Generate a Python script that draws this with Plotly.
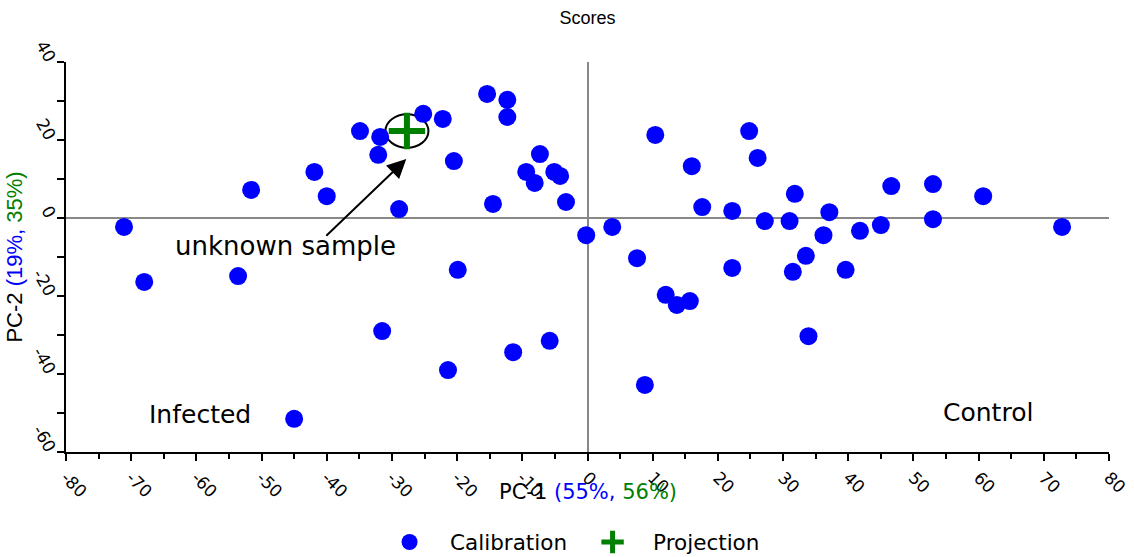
import plotly.graph_objects as go

# Calibration scores (PC-1, PC-2)
cal_pc1 = [-71.1, -68.0, -51.6, -53.6, -41.9, -40.0, -45.0, -34.9, -31.8, -32.1,
           -28.9, -31.5, -25.2, -22.2, -20.5, -19.9, -21.4, -15.4, -12.3, -12.3,
           -14.5, -11.4, -9.4, -8.1, -7.3, -5.1, -4.2, -3.3, -5.8, -0.2,
           3.8, 7.6, 8.8, 10.4, 12.0, 13.7, 15.7, 16.0, 17.6, 22.2,
           22.2, 24.8, 26.1, 27.2, 31.0, 31.8, 31.5, 33.5, 33.9, 36.2,
           37.1, 39.6, 41.8, 45.0, 46.6, 53.0, 53.0, 60.7, 72.8]
cal_pc2 = [-2.3, -16.4, 7.2, -14.9, 11.8, 5.6, -51.5, 22.3, 20.8, 16.2,
           2.3, -29.0, 26.7, 25.4, 14.6, -13.3, -39.0, 31.8, 30.3, 25.9,
           3.6, -34.4, 11.8, 9.0, 16.4, 11.8, 10.8, 4.1, -31.5, -4.4,
           -2.3, -10.3, -42.8, 21.3, -19.7, -22.3, -21.3, 13.3, 2.8, 1.8,
           -12.8, 22.3, 15.4, -0.8, -0.8, 6.2, -13.8, -9.7, -30.3, -4.4,
           1.5, -13.3, -3.3, -1.8, 8.2, 8.7, -0.3, 5.6, -2.3]

# Projected unknown sample
proj_pc1 = [-27.7]
proj_pc2 = [22.3]

x_ticks = list(range(-80, 81, 10))
y_ticks = list(range(-60, 41, 20))

FONT = "DejaVu Sans"
NB = "&nbsp;"

fig = go.Figure()
fig.add_trace(go.Scatter(
    x=cal_pc1, y=cal_pc2, mode="markers", name=NB * 3 + "Calibration" + NB * 3,
    marker=dict(symbol="circle", size=18, color="#0000FF", line=dict(width=0)),
))
fig.add_trace(go.Scatter(
    x=proj_pc1, y=proj_pc2, mode="markers", name=NB * 3 + "Projection",
    marker=dict(symbol="cross-thin", size=26, color="#008000",
                line=dict(width=6, color="#008000")),
))

# ellipse around the projected sample
px, py = proj_pc1[0], proj_pc2[0]
fig.add_shape(type="circle", xref="x", yref="y",
              x0=px - 3.3, x1=px + 3.3, y0=py - 4.3, y1=py + 4.3,
              line=dict(color="black", width=2), layer="below")

fig.add_annotation(x=px - 0.1, y=py - 7.2, ax=-40.3, ay=-4.9,
                   xref="x", yref="y", axref="x", ayref="y",
                   text="", showarrow=True, arrowhead=2, arrowsize=1.9,
                   arrowwidth=2, arrowcolor="black")
fig.add_annotation(x=-63.6, y=-7.3, xref="x", yref="y", text="unknown sample",
                   showarrow=False, xanchor="left", yanchor="middle",
                   font=dict(family=FONT, size=26, color="black"))
fig.add_annotation(x=-59.5, y=-50.5, xref="x", yref="y", text="Infected",
                   showarrow=False, xanchor="center", yanchor="middle",
                   font=dict(family=FONT, size=25, color="black"))
fig.add_annotation(x=61.5, y=-49.8, xref="x", yref="y", text="Control",
                   showarrow=False, xanchor="center", yanchor="middle",
                   font=dict(family=FONT, size=25, color="black"))

# x-axis title (placed like the reference, overlapping the rotated tick labels)
plot_top, plot_bot = 62, 452
fig.add_annotation(x=0.5, xref="paper",
                   y=(plot_bot - 492) / (plot_bot - plot_top), yref="paper",
                   yanchor="middle", xanchor="center", showarrow=False,
                   text="PC-1 <span style='color:#0000FF'>(55%,</span> "
                        "<span style='color:#008000'>56%)</span>",
                   font=dict(family=FONT, size=21, color="black"))

fig.update_layout(
    width=1134, height=557,
    margin=dict(l=66, r=25, t=62, b=105, autoexpand=False),
    paper_bgcolor="white", plot_bgcolor="white",
    font=dict(family=FONT, color="black"),
    title=dict(text="Scores", x=0.5, xref="paper", y=1 - 18 / 557,
               yref="container", xanchor="center", yanchor="middle",
               font=dict(family="Liberation Sans", size=18, color="black")),
    showlegend=True,
    legend=dict(orientation="h", x=0.49, xanchor="center", xref="paper",
                y=1 - 542 / 557, yref="container", yanchor="middle",
                font=dict(family=FONT, size=21.5, color="black"),
                itemwidth=30, bgcolor="rgba(0,0,0,0)"),
)

fig.update_xaxes(
    range=[-80, 80], tickmode="array", tickvals=x_ticks,
    ticktext=[str(v) for v in x_ticks], tickangle=45, automargin=False,
    tickfont=dict(family=FONT, size=17, color="black"),
    showline=True, linecolor="black", linewidth=2,
    ticks="outside", ticklen=7, tickwidth=2, tickcolor="black",
    minor=dict(dtick=5, tick0=0, ticks="outside", ticklen=5, tickwidth=2,
               tickcolor="black", showgrid=False),
    showgrid=False, zeroline=True, zerolinecolor="#888888", zerolinewidth=2,
)
fig.update_yaxes(
    range=[-60, 40], tickmode="array", tickvals=y_ticks,
    ticktext=[str(v) for v in y_ticks], tickangle=60, automargin=False,
    tickfont=dict(family=FONT, size=17, color="black"),
    showline=True, linecolor="black", linewidth=2,
    ticks="outside", ticklen=7, tickwidth=2, tickcolor="black",
    minor=dict(dtick=10, tick0=0, ticks="outside", ticklen=7, tickwidth=2,
               tickcolor="black", showgrid=False),
    showgrid=False, zeroline=True, zerolinecolor="#888888", zerolinewidth=2,
    title=dict(text="PC-2 <span style='color:#0000FF'>(19%,</span> "
                    "<span style='color:#008000'>35%)</span>",
               font=dict(family="Liberation Sans", size=22, color="black"),
               standoff=0),
)

fig.write_html("out.html")
